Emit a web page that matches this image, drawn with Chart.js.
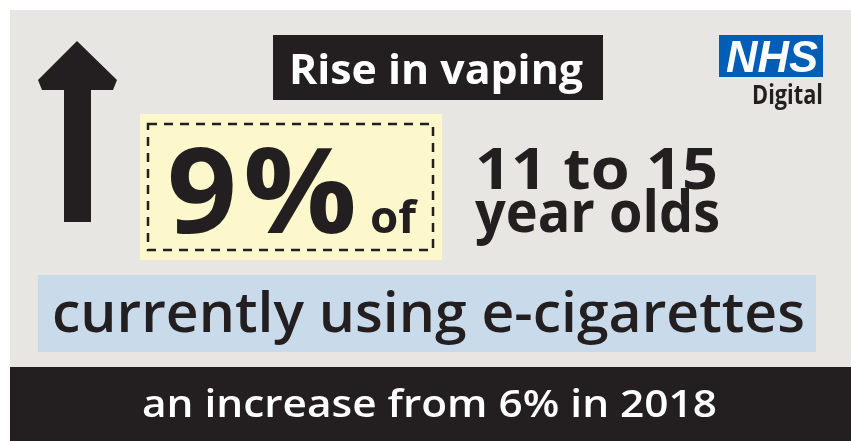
<!DOCTYPE html>
<html>
<head>
<meta charset="utf-8">
<script src="https://cdn.jsdelivr.net/npm/chart.js@4"></script>
<style>
  html, body { margin: 0; padding: 0; background: #ffffff; }
  #wrap { width: 851px; height: 441px; }
</style>
</head>
<body>
<div id="wrap"><canvas id="myChart" width="851" height="441"></canvas></div>
<script>
// survey figures
const years = ['2018', '2021'];
const usage = [6, 9];
const ageGroup = [11, 15];
const titleText = 'Rise in vaping';
const usingText = 'currently using e-cigarettes';

const INK = '#231f20';

// draw text, stretched/squeezed to a given width
function fitText(ctx, text, x, y, w, font, color) {
    ctx.save();
    ctx.font = font;
    ctx.fillStyle = color;
    ctx.textBaseline = 'alphabetic';
    ctx.textAlign = 'left';
    let m = ctx.measureText(text).width;
    ctx.translate(x, y);
    ctx.scale(w / m, 1);
    ctx.fillText(text, 0, 0);
    ctx.restore();
}

const infographic = {
    id: 'infographic',
    beforeDraw(chart) {
        const ctx = chart.ctx;
        ctx.save();
        // paper background
        ctx.fillStyle = '#ffffff';
        ctx.fillRect(0, 0, 851, 441);
        ctx.fillStyle = '#e8e6e2';
        ctx.fillRect(10, 10, 841, 358);

        // arrow
        ctx.fillStyle = INK;
        ctx.beginPath();
        ctx.moveTo(77, 41);
        ctx.lineTo(117, 80);
        ctx.lineTo(113, 90);
        ctx.lineTo(91, 90);
        ctx.lineTo(91, 222);
        ctx.lineTo(64, 222);
        ctx.lineTo(64, 90);
        ctx.lineTo(42, 90);
        ctx.lineTo(38, 80);
        ctx.closePath();
        ctx.fill();

        // title box
        ctx.fillStyle = INK;
        ctx.fillRect(273, 35, 330, 65);
        fitText(ctx, titleText, 289, 84, 294, 'bold 42px "Open Sans"', '#ffffff');

        // NHS Digital logo
        ctx.fillStyle = '#005eb8';
        ctx.fillRect(719, 35, 104, 42);
        fitText(ctx, 'NHS', 726, 72, 92, 'italic bold 45px "Liberation Sans"', '#ffffff');
        fitText(ctx, 'Digital', 752, 104, 71, 'bold 26px "Open Sans"', INK);

        // yellow box with dashed border
        ctx.fillStyle = '#fcf8cb';
        ctx.fillRect(140, 114, 302, 146);
        ctx.strokeStyle = INK;
        ctx.lineWidth = 2.5;
        ctx.setLineDash([9, 7]);
        ctx.strokeRect(148, 124, 285, 126);
        ctx.setLineDash([]);

        const now = usage[usage.length - 1];
        fitText(ctx, String(now), 167, 233, 70, 'bold 118px "Open Sans"', INK);
        fitText(ctx, '%', 243, 233, 114, 'bold 118px "Open Sans"', INK);
        fitText(ctx, 'of', 370, 233, 46, 'bold 44px "Open Sans"', INK);

        // age group
        fitText(ctx, ageGroup[0] + ' to ' + ageGroup[1], 475, 189, 243, 'bold 58px "Open Sans"', INK);
        fitText(ctx, 'year olds', 475, 232, 245, 'bold 58px "Open Sans"', INK);

        // blue band
        ctx.fillStyle = '#c9dbea';
        ctx.fillRect(38, 275, 778, 77);
        fitText(ctx, usingText, 52, 332, 753, '600 56px "Open Sans"', INK);

        // bottom band
        ctx.fillStyle = INK;
        ctx.fillRect(10, 367, 841, 74);
        const before = usage[0];
        fitText(ctx, 'an increase from ' + before + '% in ' + years[0], 142, 417, 575, '600 38px "Open Sans"', '#ffffff');
        ctx.restore();
    }
};

const myChart = new Chart(document.getElementById('myChart'), {
    type: 'bar',
    data: {
        labels: years,
        datasets: [{
            label: 'Current e-cigarette use (%)',
            data: usage,
            backgroundColor: 'rgba(0,0,0,0)',
            borderWidth: 0
        }]
    },
    options: {
        responsive: false,
        animation: false,
        events: [],
        plugins: { legend: { display: false }, tooltip: { enabled: false } },
        scales: { x: { display: false }, y: { display: false, beginAtZero: true } }
    },
    plugins: [infographic]
});
</script>
</body>
</html>
